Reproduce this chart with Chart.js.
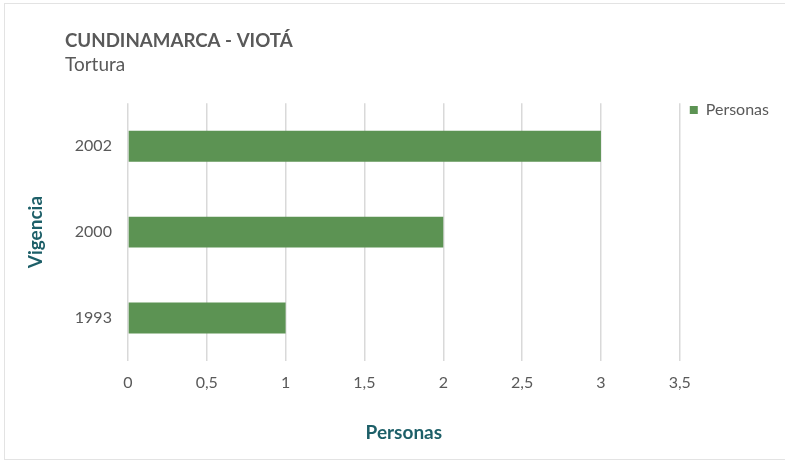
<!DOCTYPE html>
<html>
<head>
<meta charset="utf-8">
<script src="https://cdn.jsdelivr.net/npm/chart.js@4/dist/chart.umd.min.js"></script>
<style>
  html, body { margin: 0; padding: 0; background: #fff; overflow: hidden; }
  #wrap { position: relative; width: 785px; height: 462px; }
  #frame { position: absolute; left: 4px; top: 3px; width: 820px; height: 457px; border: 1px solid #e3e3e3; box-sizing: border-box; pointer-events: none; }
  canvas { position: absolute; left: 0; top: 0; }
</style>
</head>
<body>
<div id="wrap">
  <canvas id="c" width="785" height="462"></canvas>
  <div id="frame"></div>
</div>
<script>
const titleText = 'CUNDINAMARCA - VIOTÁ';
const subtitleText = 'Tortura';
const categories = ['1993', '2000', '2002'];
const personas = [1, 2, 3];
const seriesLabel = 'Personas';
const xAxisTitle = 'Personas';
const yAxisTitle = 'Vigencia';

const FONT = 'Lato, "Open Sans", sans-serif';
const GREY = '#595959';
const TEAL = '#1d5f68';

const titlePlugin = {
  id: 'customTitles',
  afterDraw(chart) {
    const ctx = chart.ctx;
    ctx.save();
    ctx.fillStyle = GREY;
    ctx.textBaseline = 'alphabetic';
    ctx.textAlign = 'left';
    ctx.font = 'bold 18.7px ' + FONT;
    ctx.fillText(titleText, 65, 47);
    ctx.font = '19px ' + FONT;
    ctx.fillText(subtitleText, 65, 71);
    ctx.restore();
  }
};

new Chart(document.getElementById('c'), {
  type: 'bar',
  data: {
    labels: categories,
    datasets: [{
      label: seriesLabel,
      data: personas,
      backgroundColor: '#5c9353',
      borderWidth: 0,
      barPercentage: 0.36,
      categoryPercentage: 1.0
    }]
  },
  options: {
    indexAxis: 'y',
    responsive: false,
    animation: false,
    layout: { padding: { left: 20, right: 6, top: 92, bottom: 14 } },
    plugins: {
      title: {
        display: true,
        text: ' ',
        fullSize: false,
        font: { size: 1 },
        padding: { top: 0, bottom: 10 }
      },
      tooltip: { enabled: false },
      legend: {
        display: true,
        position: 'right',
        align: 'start',
        labels: {
          boxWidth: 8,
          boxHeight: 8,
          color: GREY,
          font: { family: FONT, size: 16 },
          padding: 10
        }
      }
    },
    scales: {
      x: {
        min: 0,
        max: 3.5,
        ticks: {
          stepSize: 0.5,
          color: GREY,
          font: { family: FONT, size: 16 },
          padding: 12,
          callback: v => String(v).replace('.', ',')
        },
        grid: { color: '#d9d9d9', drawTicks: false, lineWidth: 1.5 },
        border: { display: false },
        title: {
          display: true,
          text: xAxisTitle,
          color: TEAL,
          font: { family: FONT, size: 19, weight: 'bold' },
          padding: { top: 17 }
        }
      },
      y: {
        reverse: true,
        ticks: {
          color: GREY,
          font: { family: FONT, size: 16 },
          padding: 16
        },
        grid: { display: false, drawTicks: false },
        border: { display: false },
        title: {
          display: true,
          text: yAxisTitle,
          color: TEAL,
          font: { family: FONT, size: 19, weight: 'bold' },
          padding: { bottom: 12 }
        }
      }
    }
  },
  plugins: [titlePlugin]
});
</script>
</body>
</html>
